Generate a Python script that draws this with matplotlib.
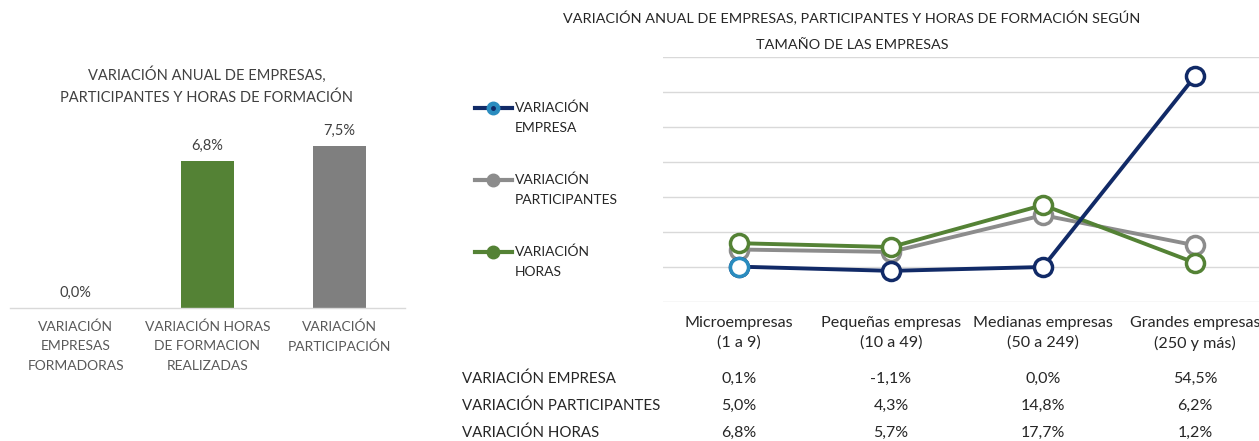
import matplotlib
matplotlib.use("Agg")
import matplotlib.pyplot as plt
from matplotlib.lines import Line2D
from matplotlib.transforms import blended_transform_factory

plt.rcParams["font.family"] = ["Lato", "DejaVu Sans"]

# ---- data ----
bar_categories = ["VARIACIÓN\nEMPRESAS\nFORMADORAS",
                  "VARIACIÓN HORAS\nDE FORMACION\nREALIZADAS",
                  "VARIACIÓN\nPARTICIPACIÓN"]
bar_values = [0.0, 6.8, 7.5]

size_categories = ["Microempresas\n(1 a 9)", "Pequeñas empresas\n(10 a 49)",
                   "Medianas empresas\n(50 a 249)", "Grandes empresas\n(250 y más)"]
empresa = [0.1, -1.1, 0.0, 54.5]
participantes = [5.0, 4.3, 14.8, 6.2]
horas = [6.8, 5.7, 17.7, 1.2]
series_names = ["VARIACIÓN EMPRESA", "VARIACIÓN PARTICIPANTES", "VARIACIÓN HORAS"]
legend_names = ["VARIACIÓN\nEMPRESA", "VARIACIÓN\nPARTICIPANTES", "VARIACIÓN\nHORAS"]

W, H = 1259, 441
NAVY = "#112a67"
LIGHTBLUE = "#2a8cbf"
GRAY = "#8c8c8c"
GREEN = "#548235"
BARGRAY = "#7f7f7f"
GRID = "#d9d9d9"
TXT = "#404040"


def pct(v):
    return f"{v:.1f}%".replace(".", ",")


def fx(px):
    return px / W


def fy(py):
    return 1 - py / H


fig = plt.figure(figsize=(W / 100, H / 100), dpi=100)

# ---- left: bar chart ----
axb = fig.add_axes([fx(10), fy(308), fx(405) - fx(10), fy(110) - fy(308)])
xb = list(range(len(bar_values)))
bar_colors = ["#4472c4", GREEN, BARGRAY]
axb.bar(xb, bar_values, width=0.4, color=bar_colors, zorder=2)
axb.set_xlim(-0.5, 2.5)
axb.set_ylim(0, (308 - 110) / 21.6)
for s in ["top", "right", "left"]:
    axb.spines[s].set_visible(False)
axb.spines["bottom"].set_color(GRID)
axb.spines["bottom"].set_linewidth(1)
axb.set_yticks([])
axb.set_xticks([])
for x, v in zip(xb, bar_values):
    axb.annotate(pct(v), (x, v), xytext=(0, 6), textcoords="offset points",
                 ha="center", va="bottom", fontsize=10.5, color=TXT)
tb = blended_transform_factory(axb.transData, fig.transFigure)
for x, lab in zip(xb, bar_categories):
    for i, line in enumerate(lab.split("\n")):
        axb.text(x, fy(327 + 19.5 * i), line, transform=tb, ha="center",
                 va="center", fontsize=10, color="#595959")
fig.text(fx(207), fy(75), "VARIACIÓN ANUAL DE EMPRESAS,", ha="center",
         va="center", fontsize=10.5, color=TXT)
fig.text(fx(207), fy(98), "PARTICIPANTES Y HORAS DE FORMACIÓN", ha="center",
         va="center", fontsize=10.5, color=TXT)

# ---- right: line chart ----
axl = fig.add_axes([fx(663), fy(302), fx(1271) - fx(663), fy(57) - fy(302)])
xs = list(range(len(size_categories)))
mk = dict(marker="o", markersize=13, markerfacecolor="white", markeredgewidth=2.5)
axl.plot(xs, participantes, color=GRAY, lw=2.8, markeredgecolor=GRAY, zorder=3, **mk)
axl.plot(xs, horas, color=GREEN, lw=2.8, markeredgecolor=GREEN, zorder=4, **mk)
axl.plot(xs, empresa, color=NAVY, lw=2.8, markeredgecolor=NAVY, zorder=5, **mk)
axl.plot(xs[:1], empresa[:1], linestyle="none", markeredgecolor=LIGHTBLUE,
         zorder=6, **mk)
axl.set_xlim(-0.5, 3.5)
axl.set_ylim(-10, 60)
axl.set_yticks(range(-10, 61, 10))
axl.set_yticklabels([])
axl.set_xticks([])
axl.tick_params(left=False)
axl.grid(axis="y", color=GRID, lw=1, zorder=0)
for s in axl.spines.values():
    s.set_visible(False)

fig.text(fx(852), fy(18), "VARIACIÓN ANUAL DE EMPRESAS, PARTICIPANTES Y HORAS DE FORMACIÓN SEGÚN",
         ha="center", va="center", fontsize=10.4, color="#262626")
fig.text(fx(852), fy(45), "TAMAÑO DE LAS EMPRESAS", ha="center", va="center",
         fontsize=10.4, color="#262626")

# data table under the line chart
tl = blended_transform_factory(axl.transData, fig.transFigure)
for x, cat in zip(xs, size_categories):
    for i, line in enumerate(cat.split("\n")):
        axl.text(x, fy(323 + 20 * i), line, transform=tl, ha="center",
                 va="center", fontsize=11.6, color="#262626", clip_on=False)
row_y = [379, 406, 433]
for name, vals, ry in zip(series_names, [empresa, participantes, horas], row_y):
    fig.text(fx(462), fy(ry), name, ha="left", va="center", fontsize=10.8,
             color="#262626")
    for x, v in zip(xs, vals):
        axl.text(x, fy(ry), pct(v), transform=tl, ha="center", va="center",
                 fontsize=11.5, color="#262626", clip_on=False)

# legend drawn at the left of the line chart
legend_style = [(NAVY, LIGHTBLUE), (GRAY, GRAY), (GREEN, GREEN)]
legend_y = [108, 180, 252]
for (lc, mc), name, ly in zip(legend_style, legend_names, legend_y):
    fig.add_artist(Line2D([fx(475), fx(512)], [fy(ly), fy(ly)], color=lc, lw=3))
    fig.add_artist(Line2D([fx(493.5)], [fy(ly)], marker="o", markersize=9,
                          markerfacecolor=mc, markeredgecolor=mc, linestyle="none"))
    if lc != mc:
        fig.add_artist(Line2D([fx(493.5)], [fy(ly)], marker="o", markersize=2.5,
                              markerfacecolor=lc, markeredgecolor=lc,
                              linestyle="none"))
    for i, line in enumerate(name.split("\n")):
        fig.text(fx(515), fy(ly + 20 * i), line, ha="left", va="center",
                 fontsize=10, color="#262626")

fig.savefig("out.png", dpi=100, facecolor="white")
